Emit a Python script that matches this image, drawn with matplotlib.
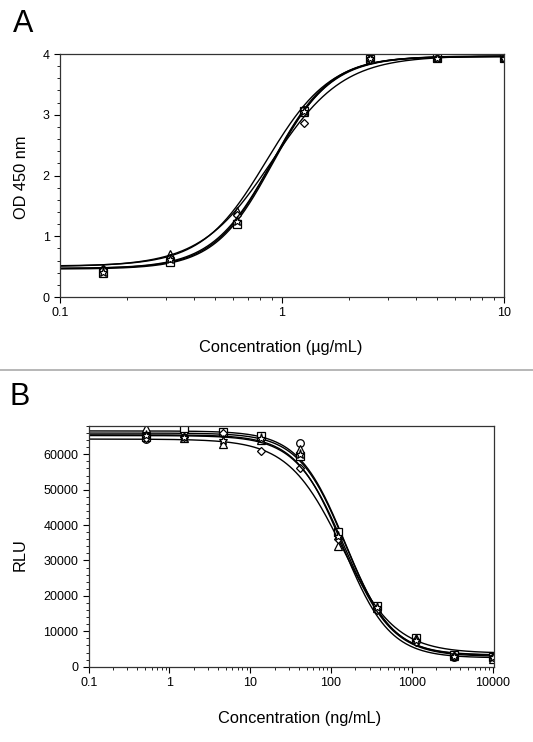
import numpy as np
import matplotlib.pyplot as plt
from matplotlib.ticker import AutoMinorLocator, LogLocator, NullFormatter
from matplotlib.lines import Line2D

plt.rcParams['font.family'] = ['Liberation Sans', 'DejaVu Sans']

# Panel A: ELISA, concentration in ug/mL
conc_a = [0.156, 0.3125, 0.625, 1.25, 2.5, 5, 10]
a_circle = [0.44, 0.60, 1.22, 3.08, 3.93, 3.94, 3.94]
a_square = [0.40, 0.58, 1.20, 3.07, 3.92, 3.93, 3.93]
a_triangle = [0.48, 0.70, 1.42, 3.05, 3.95, 3.95, 3.95]
a_diamond = [0.45, 0.65, 1.35, 2.86, 3.92, 3.94, 3.94]
a_star = [0.42, 0.62, 1.25, 3.06, 3.93, 3.94, 3.94]
# 4PL fit parameters: bottom, top, EC50, hill
fit_a = [(0.47, 3.96, 0.90, 3.3), (0.46, 3.96, 0.91, 3.3), (0.51, 3.97, 0.85, 3.0),
         (0.50, 3.97, 0.90, 2.7), (0.47, 3.96, 0.90, 3.2)]

# Panel B: cell assay, concentration in ng/mL
conc_b = [0.508, 1.524, 4.572, 13.72, 41.15, 123.5, 370.4, 1111, 3333, 10000]
b_circle = [64200, 66500, 66000, 64500, 63200, 37500, 16500, 7500, 2800, 2500]
b_square = [65000, 67500, 66300, 65300, 59500, 38000, 17200, 8200, 3300, 2800]
b_triangle = [67500, 64500, 63000, 64000, 61500, 34000, 16500, 8000, 3000, 2300]
b_diamond = [64500, 65000, 66000, 61000, 56000, 36000, 16000, 7000, 3000, 2700]
b_star = [65500, 64800, 64000, 64500, 60000, 37000, 16800, 7600, 3100, 2600]
fit_b = [(3300, 66000, 150, 1.5), (3200, 66600, 150, 1.5), (2500, 65500, 140, 1.5),
         (3800, 64300, 135, 1.3), (2900, 65300, 145, 1.45)]

markers = ['o', 's', '^', 'D', '*']
msizes = [5.5, 5.5, 6, 4.5, 6.5]


def fourpl(x, bottom, top, c, h):
    return bottom + (top - bottom) / (1 + (c / x) ** h)


fig = plt.figure(figsize=(5.33, 7.42), dpi=100)

def style(ax):
    for s in ax.spines.values():
        s.set_linewidth(0.9)
        s.set_color('#333333')
    ax.tick_params(which='major', direction='out', length=4, width=0.8, labelsize=9)
    ax.tick_params(which='minor', direction='out', length=2.2, width=0.6)
    ax.tick_params(top=False, right=False)

# ---- A ----
axA = fig.add_axes([0.1126, 0.5997, 0.833, 0.3275])
xs = np.logspace(-1, 1, 400)
for ys, p, m, ms in zip([a_circle, a_square, a_triangle, a_diamond, a_star], fit_a, markers, msizes):
    axA.plot(xs, fourpl(xs, *p), color='black', lw=1.0)
    axA.plot(conc_a, ys, m, mfc='white', mec='black', ms=ms, mew=0.9)
axA.set_xscale('log')
axA.set_xlim(0.1, 10)
axA.set_ylim(0, 4)
axA.set_xticks([0.1, 1, 10])
axA.set_xticklabels(['0.1', '1', '10'])
axA.xaxis.set_minor_locator(LogLocator(base=10, subs=np.arange(2, 10)))
axA.xaxis.set_minor_formatter(NullFormatter())
axA.set_yticks([0, 1, 2, 3, 4])
axA.yaxis.set_minor_locator(AutoMinorLocator(5))
style(axA)

# ---- B ----
axB = fig.add_axes([0.1664, 0.1015, 0.7604, 0.3244])
xs = np.logspace(-1, np.log10(11000), 400)
for ys, p, m, ms in zip([b_circle, b_square, b_triangle, b_diamond, b_star], fit_b, markers, msizes):
    bottom, top, c, h = p
    axB.plot(xs, bottom + (top - bottom) / (1 + (xs / c) ** h), color='black', lw=1.0)
    axB.plot(conc_b, ys, m, mfc='white', mec='black', ms=ms, mew=0.9)
axB.set_xscale('log')
axB.set_xlim(0.1, 10400)
axB.set_ylim(0, 68000)
axB.set_xticks([0.1, 1, 10, 100, 1000, 10000])
axB.set_xticklabels(['0.1', '1', '10', '100', '1000', '10000'])
axB.xaxis.set_minor_locator(LogLocator(base=10, subs=np.arange(2, 10)))
axB.xaxis.set_minor_formatter(NullFormatter())
axB.set_yticks([0, 10000, 20000, 30000, 40000, 50000, 60000])
axB.yaxis.set_minor_locator(AutoMinorLocator(5))
style(axB)

# labels
fig.text(22 / 533, 1 - 177 / 742, 'OD 450 nm', rotation=90, ha='center', va='center', fontsize=11.8)
fig.text(281 / 533, 1 - 348 / 742, 'Concentration (µg/mL)', ha='center', va='center', fontsize=11.8)
fig.text(20 / 533, 1 - 555 / 742, 'RLU', rotation=90, ha='center', va='center', fontsize=11.8)
fig.text(300 / 533, 1 - 719 / 742, 'Concentration (ng/mL)', ha='center', va='center', fontsize=11.8)
fig.text(23 / 533, 1 - 24 / 742, 'A', ha='center', va='center', fontsize=22)
fig.text(20 / 533, 1 - 397 / 742, 'B', ha='center', va='center', fontsize=22)

fig.add_artist(Line2D([0, 1], [1 - 370 / 742, 1 - 370 / 742], color='#aaaaaa', lw=1.2,
                      transform=fig.transFigure))

fig.savefig('out.png', dpi=100)
